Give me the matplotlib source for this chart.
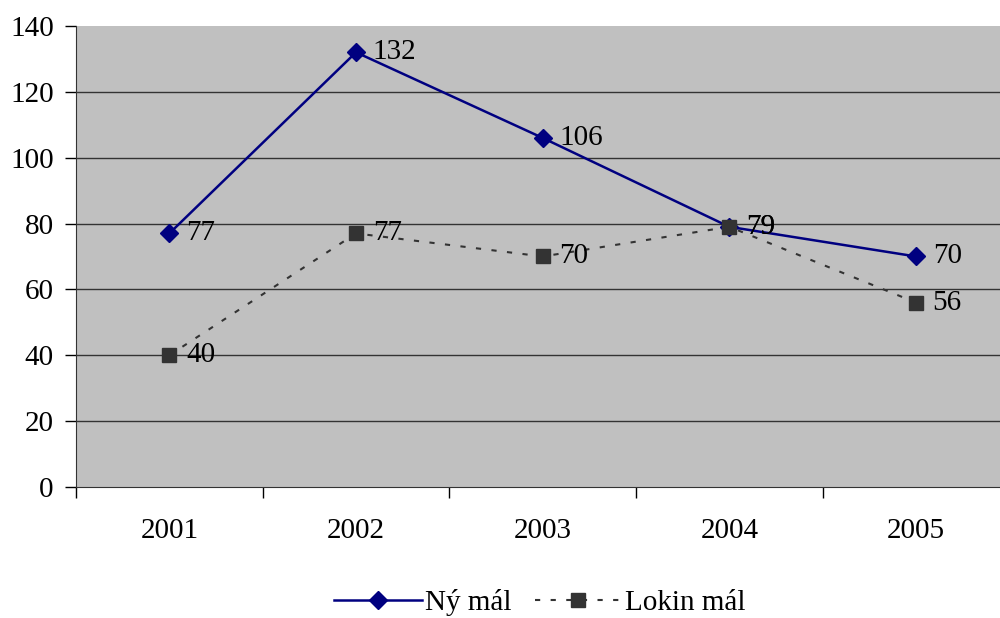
import matplotlib
matplotlib.use('Agg')
import matplotlib.pyplot as plt

years = ["2001", "2002", "2003", "2004", "2005"]
ny_mal = [77, 132, 106, 79, 70]
lokin_mal = [40, 77, 70, 79, 56]

plt.rcParams['font.family'] = ['Liberation Serif', 'DejaVu Serif']
fs = 21

fig = plt.figure(figsize=(10, 6.18), dpi=100)
ax = fig.add_axes([0.076, 0.212, 0.924, 0.746])
ax.set_facecolor("#c0c0c0")

x = list(range(len(years)))
ax.plot(x, ny_mal, color="#000080", lw=1.8, marker="D", ms=9, label="Ný mál", zorder=3)
ax.plot(x, lokin_mal, color="#333333", lw=1.5, ls=(0, (2.5, 5)), marker="s", ms=10,
        label="Lokin mál", zorder=3)

for i in x:
    ax.annotate(str(ny_mal[i]), (i, ny_mal[i]), xytext=(12, 0), textcoords="offset points",
                va="center", ha="left", fontsize=fs, zorder=4)
    ax.annotate(str(lokin_mal[i]), (i, lokin_mal[i]), xytext=(12, 0), textcoords="offset points",
                va="center", ha="left", fontsize=fs, zorder=4)

ax.set_ylim(0, 140)
ax.set_yticks(range(0, 141, 20))
ax.set_xlim(-0.5, 4.45)
ax.set_xticks(x)
ax.set_xticklabels(years)
ax.set_xticks([-0.5, 0.5, 1.5, 2.5, 3.5], minor=True)
ax.tick_params(axis="x", which="major", length=0, pad=22, labelsize=fs)
ax.tick_params(axis="x", which="minor", length=8, width=1, direction="out")
ax.tick_params(axis="y", length=8, width=1, direction="out", labelsize=fs, pad=8)
for v in range(20, 140, 20):
    ax.axhline(v, color="#333333", lw=1, zorder=1)

for s in ["top", "right"]:
    ax.spines[s].set_visible(False)
ax.spines["left"].set_color("#333333")
ax.spines["bottom"].set_color("#333333")

fig.legend(loc="center", bbox_to_anchor=(0.54, 15 / 618), ncol=2, frameon=False,
           fontsize=fs, handlelength=3.0, handletextpad=0.1, columnspacing=0.8)

plt.savefig("out.png")
